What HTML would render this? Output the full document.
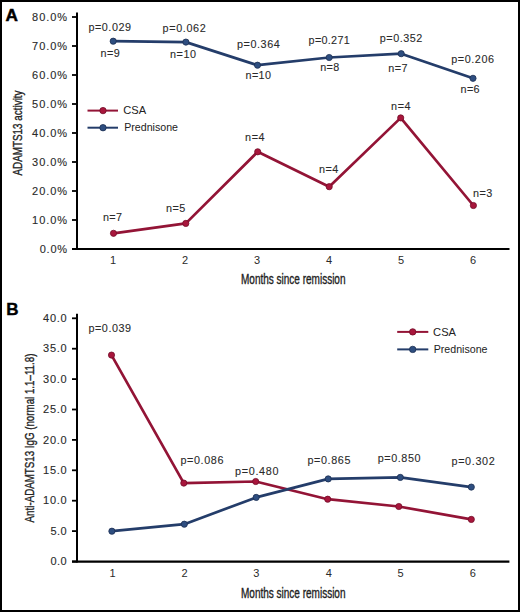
<!DOCTYPE html>
<html><head><meta charset="utf-8"><style>
html,body{margin:0;padding:0;background:#fff;}
body{width:520px;height:612px;overflow:hidden;position:relative;}
.frame{position:absolute;left:0;top:0;width:516px;height:608px;border:2px solid #000;background:#fff;}
svg{position:absolute;left:0;top:0;}
text{font-family:"Liberation Sans",sans-serif;}
</style></head><body>
<div class="frame"></div>
<svg width="520" height="612" viewBox="0 0 520 612">
<text x="5.6" y="20.5" font-size="17.2" font-weight="bold" fill="#000" stroke="#000" stroke-width="0.5">A</text>
<line x1="77" y1="12.5" x2="77" y2="250" stroke="#000" stroke-width="2"/>
<line x1="72" y1="249" x2="509.5" y2="249" stroke="#000" stroke-width="2.2"/>
<line x1="72" y1="17" x2="77" y2="17" stroke="#000" stroke-width="1.8"/>
<text x="32.1" y="21.2" font-size="11" fill="#2a2a2a" stroke="#2a2a2a" stroke-width="0.12" textLength="35.0" lengthAdjust="spacing">80.0%</text>
<line x1="72" y1="46" x2="77" y2="46" stroke="#000" stroke-width="1.8"/>
<text x="32.1" y="50.2" font-size="11" fill="#2a2a2a" stroke="#2a2a2a" stroke-width="0.12" textLength="35.0" lengthAdjust="spacing">70.0%</text>
<line x1="72" y1="75" x2="77" y2="75" stroke="#000" stroke-width="1.8"/>
<text x="32.1" y="79.2" font-size="11" fill="#2a2a2a" stroke="#2a2a2a" stroke-width="0.12" textLength="35.0" lengthAdjust="spacing">60.0%</text>
<line x1="72" y1="104" x2="77" y2="104" stroke="#000" stroke-width="1.8"/>
<text x="32.1" y="108.2" font-size="11" fill="#2a2a2a" stroke="#2a2a2a" stroke-width="0.12" textLength="35.0" lengthAdjust="spacing">50.0%</text>
<line x1="72" y1="133" x2="77" y2="133" stroke="#000" stroke-width="1.8"/>
<text x="32.1" y="137.2" font-size="11" fill="#2a2a2a" stroke="#2a2a2a" stroke-width="0.12" textLength="35.0" lengthAdjust="spacing">40.0%</text>
<line x1="72" y1="162" x2="77" y2="162" stroke="#000" stroke-width="1.8"/>
<text x="32.1" y="166.2" font-size="11" fill="#2a2a2a" stroke="#2a2a2a" stroke-width="0.12" textLength="35.0" lengthAdjust="spacing">30.0%</text>
<line x1="72" y1="191" x2="77" y2="191" stroke="#000" stroke-width="1.8"/>
<text x="32.1" y="195.2" font-size="11" fill="#2a2a2a" stroke="#2a2a2a" stroke-width="0.12" textLength="35.0" lengthAdjust="spacing">20.0%</text>
<line x1="72" y1="220" x2="77" y2="220" stroke="#000" stroke-width="1.8"/>
<text x="32.1" y="224.2" font-size="11" fill="#2a2a2a" stroke="#2a2a2a" stroke-width="0.12" textLength="35.0" lengthAdjust="spacing">10.0%</text>
<line x1="72" y1="249" x2="77" y2="249" stroke="#000" stroke-width="1.8"/>
<text x="39.7" y="253.2" font-size="11" fill="#2a2a2a" stroke="#2a2a2a" stroke-width="0.12" textLength="27.4" lengthAdjust="spacing">0.0%</text>
<text x="113.0" y="264.0" font-size="11" fill="#2a2a2a" text-anchor="middle">1</text>
<text x="185.0" y="264.0" font-size="11" fill="#2a2a2a" text-anchor="middle">2</text>
<text x="257.0" y="264.0" font-size="11" fill="#2a2a2a" text-anchor="middle">3</text>
<text x="329.0" y="264.0" font-size="11" fill="#2a2a2a" text-anchor="middle">4</text>
<text x="401.0" y="264.0" font-size="11" fill="#2a2a2a" text-anchor="middle">5</text>
<text x="473.0" y="264.0" font-size="11" fill="#2a2a2a" text-anchor="middle">6</text>
<text x="241" y="284.2" font-size="14.2" fill="#222" stroke="#222" stroke-width="0.35" textLength="104.5" lengthAdjust="spacingAndGlyphs">Months since remission</text>
<text transform="translate(22,175.5) rotate(-90)" x="0" y="0" font-size="13.6" fill="#222" stroke="#222" stroke-width="0.35" textLength="85" lengthAdjust="spacingAndGlyphs">ADAMTS13 activity</text>
<path d="M113.5,233.3 L185.8,223.4 L257.7,151.8 L329.2,186.7 L400.7,117.9 L473.4,205.5" fill="none" stroke="#931436" stroke-width="2.7" stroke-linejoin="round"/>
<circle cx="113.5" cy="233.3" r="3.1" fill="#a8163c" stroke="#720d28" stroke-width="0.8"/>
<circle cx="185.8" cy="223.4" r="3.1" fill="#a8163c" stroke="#720d28" stroke-width="0.8"/>
<circle cx="257.7" cy="151.8" r="3.1" fill="#a8163c" stroke="#720d28" stroke-width="0.8"/>
<circle cx="329.2" cy="186.7" r="3.1" fill="#a8163c" stroke="#720d28" stroke-width="0.8"/>
<circle cx="400.7" cy="117.9" r="3.1" fill="#a8163c" stroke="#720d28" stroke-width="0.8"/>
<circle cx="473.4" cy="205.5" r="3.1" fill="#a8163c" stroke="#720d28" stroke-width="0.8"/>
<path d="M113.2,41.2 L185.9,42.1 L257.5,65.2 L329.2,57.5 L401.2,53.7 L473.0,78.3" fill="none" stroke="#243d6a" stroke-width="2.7" stroke-linejoin="round"/>
<circle cx="113.2" cy="41.2" r="3.1" fill="#2e4e80" stroke="#1c2f52" stroke-width="0.8"/>
<circle cx="185.9" cy="42.1" r="3.1" fill="#2e4e80" stroke="#1c2f52" stroke-width="0.8"/>
<circle cx="257.5" cy="65.2" r="3.1" fill="#2e4e80" stroke="#1c2f52" stroke-width="0.8"/>
<circle cx="329.2" cy="57.5" r="3.1" fill="#2e4e80" stroke="#1c2f52" stroke-width="0.8"/>
<circle cx="401.2" cy="53.7" r="3.1" fill="#2e4e80" stroke="#1c2f52" stroke-width="0.8"/>
<circle cx="473.0" cy="78.3" r="3.1" fill="#2e4e80" stroke="#1c2f52" stroke-width="0.8"/>
<text x="88.4" y="30.8" font-size="10.8" fill="#2a2a2a" stroke="#2a2a2a" stroke-width="0.1" textLength="42.6" lengthAdjust="spacing" >p=0.029</text>
<text x="162.5" y="32.3" font-size="10.8" fill="#2a2a2a" stroke="#2a2a2a" stroke-width="0.1" textLength="43.3" lengthAdjust="spacing" >p=0.062</text>
<text x="236.9" y="47.5" font-size="10.8" fill="#2a2a2a" stroke="#2a2a2a" stroke-width="0.1" textLength="42.9" lengthAdjust="spacing" >p=0.364</text>
<text x="308.6" y="44.0" font-size="10.8" fill="#2a2a2a" stroke="#2a2a2a" stroke-width="0.1" textLength="41.1" lengthAdjust="spacing" >p=0.271</text>
<text x="379.8" y="42.1" font-size="10.8" fill="#2a2a2a" stroke="#2a2a2a" stroke-width="0.1" textLength="42.4" lengthAdjust="spacing" >p=0.352</text>
<text x="451.3" y="62.7" font-size="10.8" fill="#2a2a2a" stroke="#2a2a2a" stroke-width="0.1" textLength="42.7" lengthAdjust="spacing" >p=0.206</text>
<text x="100.4" y="57.0" font-size="10.8" fill="#2a2a2a" stroke="#2a2a2a" stroke-width="0.1" textLength="19.4" lengthAdjust="spacing" >n=9</text>
<text x="170.0" y="57.5" font-size="10.8" fill="#2a2a2a" stroke="#2a2a2a" stroke-width="0.1" textLength="26.0" lengthAdjust="spacing" >n=10</text>
<text x="245.6" y="79.2" font-size="10.8" fill="#2a2a2a" stroke="#2a2a2a" stroke-width="0.1" textLength="25.4" lengthAdjust="spacing" >n=10</text>
<text x="320.2" y="71.0" font-size="10.8" fill="#2a2a2a" stroke="#2a2a2a" stroke-width="0.1" textLength="19.0" lengthAdjust="spacing" >n=8</text>
<text x="388.2" y="71.5" font-size="10.8" fill="#2a2a2a" stroke="#2a2a2a" stroke-width="0.1" textLength="19.3" lengthAdjust="spacing" >n=7</text>
<text x="460.6" y="92.5" font-size="10.8" fill="#2a2a2a" stroke="#2a2a2a" stroke-width="0.1" textLength="19.0" lengthAdjust="spacing" >n=6</text>
<text x="103.0" y="221.2" font-size="10.8" fill="#2a2a2a" stroke="#2a2a2a" stroke-width="0.1" textLength="18.9" lengthAdjust="spacing" >n=7</text>
<text x="166.0" y="211.8" font-size="10.8" fill="#2a2a2a" stroke="#2a2a2a" stroke-width="0.1" textLength="19.2" lengthAdjust="spacing" >n=5</text>
<text x="245.0" y="140.5" font-size="10.8" fill="#2a2a2a" stroke="#2a2a2a" stroke-width="0.1" textLength="19.6" lengthAdjust="spacing" >n=4</text>
<text x="319.0" y="172.8" font-size="10.8" fill="#2a2a2a" stroke="#2a2a2a" stroke-width="0.1" textLength="19.2" lengthAdjust="spacing" >n=4</text>
<text x="391.0" y="109.7" font-size="10.8" fill="#2a2a2a" stroke="#2a2a2a" stroke-width="0.1" textLength="19.6" lengthAdjust="spacing" >n=4</text>
<text x="473.0" y="197.3" font-size="10.8" fill="#2a2a2a" stroke="#2a2a2a" stroke-width="0.1" textLength="19.3" lengthAdjust="spacing" >n=3</text>
<line x1="87.5" y1="110.6" x2="118" y2="110.6" stroke="#931436" stroke-width="2"/>
<circle cx="103" cy="110.6" r="3.2" fill="#a8163c" stroke="#720d28" stroke-width="0.8"/>
<text x="123.3" y="113.7" font-size="11" fill="#222" textLength="22.9" lengthAdjust="spacingAndGlyphs">CSA</text>
<line x1="87.5" y1="127.7" x2="118" y2="127.7" stroke="#243d6a" stroke-width="2"/>
<circle cx="103" cy="127.7" r="3.2" fill="#2e4e80" stroke="#1c2f52" stroke-width="0.8"/>
<text x="124.2" y="131" font-size="11" fill="#222" textLength="53.8" lengthAdjust="spacingAndGlyphs">Prednisone</text>
<text x="6.3" y="315.4" font-size="17" font-weight="bold" fill="#000" stroke="#000" stroke-width="0.4">B</text>
<line x1="77" y1="313.7" x2="77" y2="562.5" stroke="#000" stroke-width="2"/>
<line x1="72" y1="561.7" x2="509.4" y2="561.7" stroke="#000" stroke-width="2.2"/>
<line x1="72" y1="318.3" x2="77" y2="318.3" stroke="#000" stroke-width="1.8"/>
<text x="43.0" y="321.9" font-size="11" fill="#2a2a2a" stroke="#2a2a2a" stroke-width="0.12" textLength="23.7" lengthAdjust="spacing">40.0</text>
<line x1="72" y1="348.7" x2="77" y2="348.7" stroke="#000" stroke-width="1.8"/>
<text x="43.0" y="352.3" font-size="11" fill="#2a2a2a" stroke="#2a2a2a" stroke-width="0.12" textLength="23.7" lengthAdjust="spacing">35.0</text>
<line x1="72" y1="379.1" x2="77" y2="379.1" stroke="#000" stroke-width="1.8"/>
<text x="43.0" y="382.7" font-size="11" fill="#2a2a2a" stroke="#2a2a2a" stroke-width="0.12" textLength="23.7" lengthAdjust="spacing">30.0</text>
<line x1="72" y1="409.5" x2="77" y2="409.5" stroke="#000" stroke-width="1.8"/>
<text x="43.0" y="413.1" font-size="11" fill="#2a2a2a" stroke="#2a2a2a" stroke-width="0.12" textLength="23.7" lengthAdjust="spacing">25.0</text>
<line x1="72" y1="439.9" x2="77" y2="439.9" stroke="#000" stroke-width="1.8"/>
<text x="43.0" y="443.5" font-size="11" fill="#2a2a2a" stroke="#2a2a2a" stroke-width="0.12" textLength="23.7" lengthAdjust="spacing">20.0</text>
<line x1="72" y1="470.3" x2="77" y2="470.3" stroke="#000" stroke-width="1.8"/>
<text x="43.0" y="473.9" font-size="11" fill="#2a2a2a" stroke="#2a2a2a" stroke-width="0.12" textLength="23.7" lengthAdjust="spacing">15.0</text>
<line x1="72" y1="500.7" x2="77" y2="500.7" stroke="#000" stroke-width="1.8"/>
<text x="43.0" y="504.3" font-size="11" fill="#2a2a2a" stroke="#2a2a2a" stroke-width="0.12" textLength="23.7" lengthAdjust="spacing">10.0</text>
<line x1="72" y1="531.1" x2="77" y2="531.1" stroke="#000" stroke-width="1.8"/>
<text x="50.4" y="534.7" font-size="11" fill="#2a2a2a" stroke="#2a2a2a" stroke-width="0.12" textLength="16.3" lengthAdjust="spacing">5.0</text>
<line x1="72" y1="561.5" x2="77" y2="561.5" stroke="#000" stroke-width="1.8"/>
<text x="50.4" y="565.1" font-size="11" fill="#2a2a2a" stroke="#2a2a2a" stroke-width="0.12" textLength="16.3" lengthAdjust="spacing">0.0</text>
<text x="112.5" y="577.0" font-size="11" fill="#2a2a2a" text-anchor="middle">1</text>
<text x="184.5" y="577.0" font-size="11" fill="#2a2a2a" text-anchor="middle">2</text>
<text x="256.3" y="577.0" font-size="11" fill="#2a2a2a" text-anchor="middle">3</text>
<text x="328.8" y="577.0" font-size="11" fill="#2a2a2a" text-anchor="middle">4</text>
<text x="400.5" y="577.0" font-size="11" fill="#2a2a2a" text-anchor="middle">5</text>
<text x="472.7" y="577.0" font-size="11" fill="#2a2a2a" text-anchor="middle">6</text>
<text x="241" y="597.7" font-size="14.2" fill="#222" stroke="#222" stroke-width="0.35" textLength="104.5" lengthAdjust="spacingAndGlyphs">Months since remission</text>
<text transform="translate(34,522.4) rotate(-90)" x="0" y="0" font-size="13.6" fill="#222" stroke="#222" stroke-width="0.35" textLength="168.8" lengthAdjust="spacingAndGlyphs">Anti-ADAMTS13 IgG (normal 1.1&#8211;11.8)</text>
<path d="M111.5,355.1 L183.8,483.1 L255.7,481.5 L327.7,499.2 L398.8,506.5 L471.3,519.4" fill="none" stroke="#931436" stroke-width="2.7" stroke-linejoin="round"/>
<circle cx="111.5" cy="355.1" r="3.1" fill="#a8163c" stroke="#720d28" stroke-width="0.8"/>
<circle cx="183.8" cy="483.1" r="3.1" fill="#a8163c" stroke="#720d28" stroke-width="0.8"/>
<circle cx="255.7" cy="481.5" r="3.1" fill="#a8163c" stroke="#720d28" stroke-width="0.8"/>
<circle cx="327.7" cy="499.2" r="3.1" fill="#a8163c" stroke="#720d28" stroke-width="0.8"/>
<circle cx="398.8" cy="506.5" r="3.1" fill="#a8163c" stroke="#720d28" stroke-width="0.8"/>
<circle cx="471.3" cy="519.4" r="3.1" fill="#a8163c" stroke="#720d28" stroke-width="0.8"/>
<path d="M111.9,531.2 L184.3,524.2 L256.2,497.4 L328.2,478.9 L400.3,477.4 L471.3,487.1" fill="none" stroke="#243d6a" stroke-width="2.7" stroke-linejoin="round"/>
<circle cx="111.9" cy="531.2" r="3.1" fill="#2e4e80" stroke="#1c2f52" stroke-width="0.8"/>
<circle cx="184.3" cy="524.2" r="3.1" fill="#2e4e80" stroke="#1c2f52" stroke-width="0.8"/>
<circle cx="256.2" cy="497.4" r="3.1" fill="#2e4e80" stroke="#1c2f52" stroke-width="0.8"/>
<circle cx="328.2" cy="478.9" r="3.1" fill="#2e4e80" stroke="#1c2f52" stroke-width="0.8"/>
<circle cx="400.3" cy="477.4" r="3.1" fill="#2e4e80" stroke="#1c2f52" stroke-width="0.8"/>
<circle cx="471.3" cy="487.1" r="3.1" fill="#2e4e80" stroke="#1c2f52" stroke-width="0.8"/>
<text x="88.5" y="332.3" font-size="10.8" fill="#2a2a2a" stroke="#2a2a2a" stroke-width="0.1" textLength="42.5" lengthAdjust="spacing" >p=0.039</text>
<text x="180.5" y="463.8" font-size="10.8" fill="#2a2a2a" stroke="#2a2a2a" stroke-width="0.1" textLength="42.9" lengthAdjust="spacing" >p=0.086</text>
<text x="235.0" y="475.4" font-size="10.8" fill="#2a2a2a" stroke="#2a2a2a" stroke-width="0.1" textLength="43.5" lengthAdjust="spacing" >p=0.480</text>
<text x="307.4" y="463.8" font-size="10.8" fill="#2a2a2a" stroke="#2a2a2a" stroke-width="0.1" textLength="43.1" lengthAdjust="spacing" >p=0.865</text>
<text x="377.7" y="462.3" font-size="10.8" fill="#2a2a2a" stroke="#2a2a2a" stroke-width="0.1" textLength="42.8" lengthAdjust="spacing" >p=0.850</text>
<text x="451.5" y="464.7" font-size="10.8" fill="#2a2a2a" stroke="#2a2a2a" stroke-width="0.1" textLength="43.2" lengthAdjust="spacing" >p=0.302</text>
<line x1="397.2" y1="331.9" x2="428.3" y2="331.9" stroke="#931436" stroke-width="2"/>
<circle cx="412.7" cy="331.9" r="3.2" fill="#a8163c" stroke="#720d28" stroke-width="0.8"/>
<text x="433.1" y="335.5" font-size="11" fill="#222" textLength="22.9" lengthAdjust="spacingAndGlyphs">CSA</text>
<line x1="397.2" y1="349.4" x2="428.3" y2="349.4" stroke="#243d6a" stroke-width="2"/>
<circle cx="412.7" cy="349.4" r="3.2" fill="#2e4e80" stroke="#1c2f52" stroke-width="0.8"/>
<text x="433.7" y="352.7" font-size="11" fill="#222" textLength="53.8" lengthAdjust="spacingAndGlyphs">Prednisone</text>
</svg>
</body></html>
